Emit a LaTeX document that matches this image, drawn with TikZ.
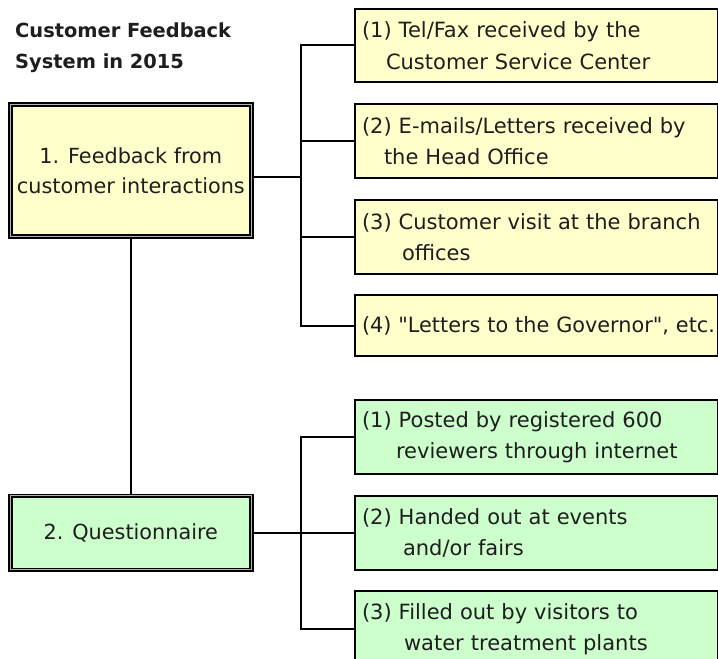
\documentclass[tikz,border=0pt]{standalone}
\usepackage{fontspec}
\usepackage{graphicx}
\setmainfont{DejaVu Sans}
\newfontfamily\plainfont{DejaVu Sans}
\newcommand{\sq}{{\plainfont\symbol{34}}}
\definecolor{yfill}{HTML}{FFFFCC}
\definecolor{gfill}{HTML}{CCFFCC}
\definecolor{txt}{HTML}{1E1E1E}
\tikzset{
  mainbox/.style={draw=black, line width=1.7bp, double=gray!60, double distance=1.2bp,
    minimum width=241bp, inner sep=0pt, anchor=north west, align=center,
    text=txt, font=\fontsize{20.8bp}{30bp}\selectfont},
  subbox/.style={draw=black, line width=2bp, minimum width=363bp, anchor=north west,
    text width=349bp, align=left, inner xsep=7bp, inner ysep=0pt,
    text=txt, font=\fontsize{21bp}{31.5bp}\selectfont},
  conn/.style={draw=black, line width=2bp},
  titletext/.style={anchor=north west, align=left, inner sep=0pt, text=txt,
    font=\bfseries\fontsize{19.4bp}{30.5bp}\selectfont}
}
\begin{document}
\begin{tikzpicture}[x=1bp,y=-1bp]
\useasboundingbox (0,0) rectangle (718,659);
\clip (0,0) rectangle (718,659);
\fill[white] (0,0) rectangle (718,659);

\node[titletext] (title) at (15,23) {Customer Feedback\\System in 2015};

\node[mainbox, fill=yfill, minimum height=132bp] (b1) at (9.5,103.5) {1. Feedback from\\customer interactions};
\node[mainbox, fill=gfill, minimum height=74bp] (b2) at (9.5,495) {2. Questionnaire};

\node[subbox, fill=yfill, minimum height=73bp] (y1) at (354,8) {(1) Tel/Fax received by the\\\hspace*{24bp}Customer Service Center};
\node[subbox, fill=yfill, minimum height=74bp] (y2) at (354,103) {(2) E-mails/Letters received by\\\hspace*{22bp}the Head Office};
\node[subbox, fill=yfill, minimum height=74bp] (y3) at (354,199) {(3) Customer visit at the branch\\\hspace*{40bp}offices};
\node[subbox, fill=yfill, minimum height=61bp] (y4) at (354,294) {\resizebox{353bp}{\height}{(4) \sq Letters to the Governor\sq, etc.}};

\node[subbox, fill=gfill, minimum height=74bp] (g1) at (354,399) {(1) Posted by registered 600\\\hspace*{34bp}reviewers through internet};
\node[subbox, fill=gfill, minimum height=74bp] (g2) at (354,495) {(2) Handed out at events\\\hspace*{41bp}and/or fairs};
\node[subbox, fill=gfill, minimum height=76bp] (g3) at (354,590) {(3) Filled out by visitors to\\\hspace*{42bp}water treatment plants};

\coordinate (bus) at (301,0);
\coordinate (j1) at (0,177);

\draw[conn] (b1.south) -- (b2.north);
\draw[conn] (j1 -| b1.east) -- (j1 -| bus);
\draw[conn] (y1.west) -- (y1.west -| bus) -- (y4.west -| bus) -- (y4.west);
\draw[conn] (y2.west) -- (y2.west -| bus);
\draw[conn] (y3.west) -- (y3.west -| bus);

\draw[conn] (g1.west) -- (g1.west -| bus) -- (g3.west -| bus) -- (g3.west);
\draw[conn] (b2.east) -- (b2.east -| g2.west);
\end{tikzpicture}
\end{document}
